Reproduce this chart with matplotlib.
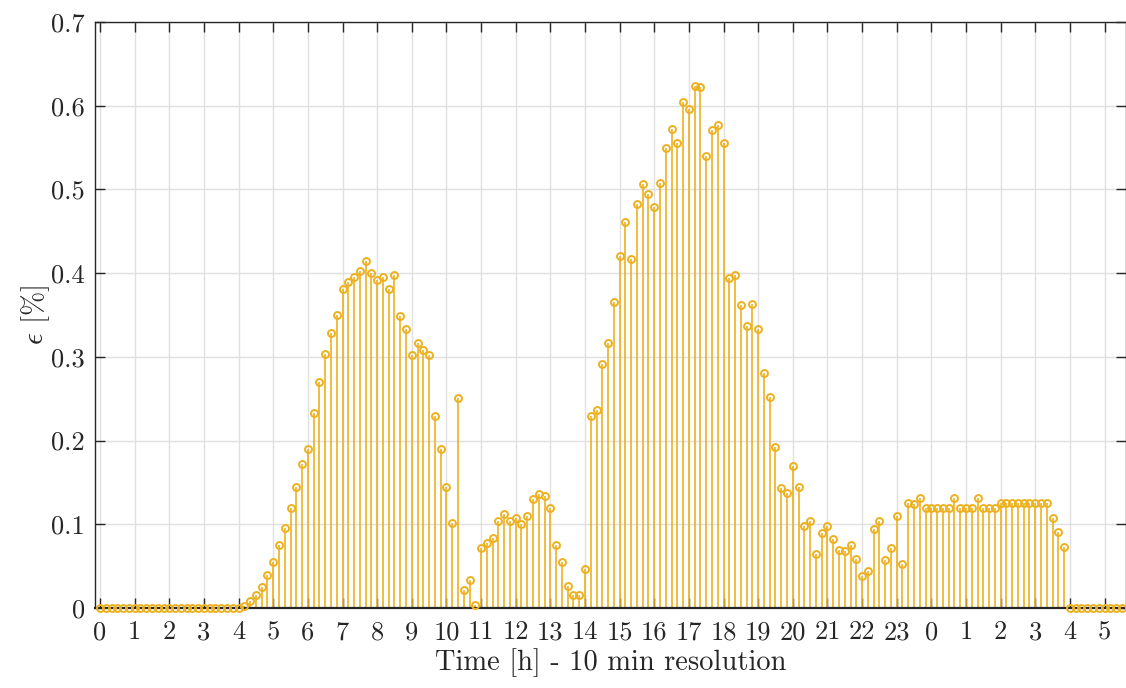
import numpy as np
import matplotlib
matplotlib.use('Agg')
import matplotlib.pyplot as plt

plt.rcParams['font.family'] = 'cmr10'
plt.rcParams['mathtext.fontset'] = 'cm'
plt.rcParams['axes.formatter.use_mathtext'] = True

# epsilon [%] every 10 minutes, one row per hour (starting at 0 h)
eps_percent = [
    0, 0, 0, 0, 0, 0,
    0, 0, 0, 0, 0, 0,
    0, 0, 0, 0, 0, 0,
    0, 0, 0, 0, 0, 0,
    0, 0.002, 0.008, 0.015, 0.025, 0.039,
    0.055, 0.075, 0.096, 0.119, 0.144, 0.172,
    0.190, 0.233, 0.270, 0.303, 0.329, 0.350,
    0.381, 0.390, 0.395, 0.403, 0.414, 0.400,
    0.392, 0.395, 0.381, 0.398, 0.349, 0.333,
    0.302, 0.316, 0.308, 0.302, 0.229, 0.190,
    0.145, 0.102, 0.251, 0.022, 0.033, 0.004,
    0.072, 0.078, 0.084, 0.104, 0.112, 0.104,
    0.108, 0.100, 0.110, 0.130, 0.136, 0.134,
    0.120, 0.075, 0.055, 0.026, 0.016, 0.016,
    0.047, 0.229, 0.236, 0.292, 0.316, 0.365,
    0.420, 0.461, 0.417, 0.482, 0.506, 0.495,
    0.479, 0.508, 0.549, 0.572, 0.555, 0.605,
    0.596, 0.624, 0.622, 0.540, 0.571, 0.577,
    0.555, 0.394, 0.398, 0.362, 0.337, 0.363,
    0.333, 0.281, 0.252, 0.192, 0.143, 0.137,
    0.170, 0.145, 0.098, 0.104, 0.065, 0.089,
    0.098, 0.083, 0.069, 0.068, 0.075, 0.058,
    0.038, 0.044, 0.094, 0.104, 0.057, 0.072,
    0.110, 0.053, 0.125, 0.124, 0.131, 0.120,
    0.120, 0.120, 0.120, 0.120, 0.131, 0.120,
    0.120, 0.120, 0.131, 0.120, 0.120, 0.120,
    0.125, 0.125, 0.125, 0.125, 0.125, 0.125,
    0.125, 0.125, 0.125, 0.108, 0.091, 0.073,
    0, 0, 0, 0, 0, 0,
    0, 0, 0, 0,
]
hour_ticks = list(range(30))
hour_labels = [str(h % 24) for h in hour_ticks]
y_ticks = [0, 0.1, 0.2, 0.3, 0.4, 0.5, 0.6, 0.7]
y_labels = ['0', '0.1', '0.2', '0.3', '0.4', '0.5', '0.6', '0.7']

color = '#EDB120'
dark = '#262626'

t = np.arange(len(eps_percent)) / 6.0

fig = plt.figure(figsize=(11.26, 6.88), dpi=100)
ax = fig.add_axes([94.5 / 1126, 1 - 608 / 688, 1 - 94.5 / 1126, (608 - 22) / 688])

ax.set_axisbelow(True)
ax.grid(True, color='#e0e0e0', linewidth=1.0)

markers, stems, base = ax.stem(t, eps_percent, basefmt=' ')
plt.setp(stems, color=color, linewidth=1.2)
plt.setp(markers, marker='o', markersize=5.0, markerfacecolor='none',
         markeredgecolor=color, markeredgewidth=1.4, clip_on=False, zorder=4)

ax.set_xlim(-0.16, 29.62)
ax.set_ylim(0, 0.7)
ax.set_xticks(hour_ticks)
ax.set_xticklabels(hour_labels)
ax.set_yticks(y_ticks)
ax.set_yticklabels(y_labels)

ax.tick_params(direction='in', length=7.5, width=1.0, color=dark, labelcolor=dark,
               labelsize=19, top=True, right=True)
ax.tick_params(axis='y', pad=7)
ax.tick_params(axis='x', pad=9)
for s in ax.spines.values():
    s.set_color(dark)
    s.set_linewidth(1.0)
ax.spines['bottom'].set_linewidth(1.6)

ax.set_xlabel('Time [h] - 10 min resolution', fontsize=20.5, color=dark, labelpad=3)
ax.set_ylabel(r'$\epsilon$ [%]', fontsize=21, color=dark, labelpad=-1)

fig.savefig('out.png', dpi=100)
